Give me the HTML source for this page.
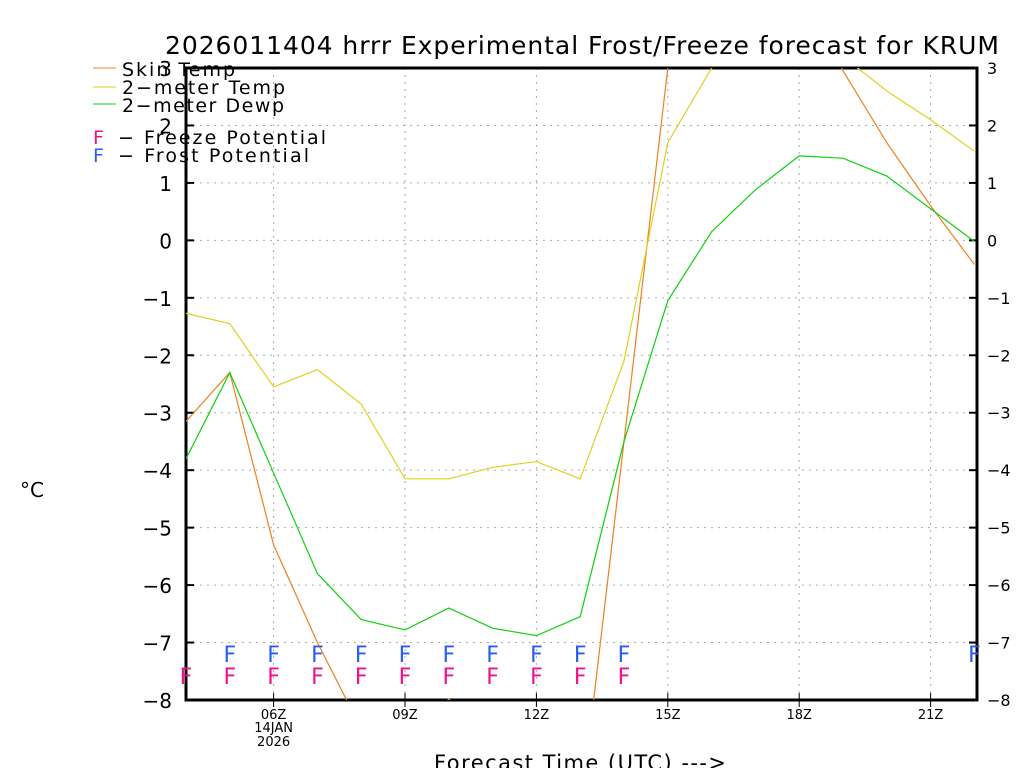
<!DOCTYPE html>
<html><head><meta charset="utf-8"><style>
html,body{margin:0;background:#fff;width:1024px;height:768px;overflow:hidden}
svg{display:block;font-family:"DejaVu Sans","Liberation Sans",sans-serif}
</style></head><body>
<svg id="c" width="1024" height="768">
<defs><clipPath id="clip"><rect x="186" y="68" width="791" height="632"/></clipPath></defs>
<text x="582" y="54" font-size="25" text-anchor="middle" textLength="834">2026011404 hrrr Experimental Frost/Freeze forecast for KRUM</text>
<g id="grid"></g><g id="axes"></g>
<g id="series" clip-path="url(#clip)"></g>
<g id="marks"></g>
<g font-size="19">
<line x1="93" y1="68" x2="116" y2="68" stroke="#f07f20"/>
<text x="122" y="76" textLength="113">Skin Temp</text>
<line x1="93" y1="87" x2="116" y2="87" stroke="#e0d020"/>
<text x="122" y="94" textLength="163">2−meter Temp</text>
<line x1="93" y1="104" x2="116" y2="104" stroke="#10d010"/>
<text x="122" y="112" textLength="162">2−meter Dewp</text>
<text x="93" y="144" fill="#f0108a">F</text>
<text x="118" y="144" textLength="208">− Freeze Potential</text>
<text x="93" y="162" fill="#2a5cf0">F</text>
<text x="118" y="162" textLength="191">− Frost Potential</text>
</g>
<text x="32" y="497" font-size="20" text-anchor="middle">°C</text>
<text x="580" y="770" font-size="21" text-anchor="middle" textLength="292">Forecast Time (UTC) ---&gt;</text>
</svg>
<script>
const hours=[4,5,6,7,8,9,10,11,12,13,14,15,16,17,18,19,20,21,22];
const skinTemp=[-3.15,-2.3,-5.3,-7.0,-8.5,-9,-7.98,-9,-9,-10,-3.5,3.0,4,4.5,4.5,2.95,1.7,0.6,-0.42];
const temp2m=[-1.27,-1.45,-2.55,-2.25,-2.85,-4.15,-4.15,-3.95,-3.85,-4.15,-2.1,1.7,3.0,3.5,3.6,3.2,2.6,2.1,1.55];
const dewp2m=[-3.8,-2.3,-4.05,-5.8,-6.6,-6.78,-6.4,-6.75,-6.88,-6.55,-3.5,-1.05,0.15,0.88,1.47,1.43,1.12,0.55,-0.02];
const frostHours=[5,6,7,8,9,10,11,12,13,14,22];
const freezeHours=[4,5,6,7,8,9,10,11,12,13,14];
const yTicks=[3,2,1,0,-1,-2,-3,-4,-5,-6,-7,-8];
const xTickHours=[6,9,12,15,18,21];
const xTickLabels=["06Z","09Z","12Z","15Z","18Z","21Z"];
const X=h=>186+(h-4)*43.8;
const Y=v=>68+(3-v)*(632/11);
const NS="http://www.w3.org/2000/svg";
function mk(tag,attrs,parent,txt){const e=document.createElementNS(NS,tag);for(const k in attrs)e.setAttribute(k,attrs[k]);if(txt!==undefined)e.textContent=txt;document.getElementById(parent).appendChild(e);return e;}
yTicks.forEach(v=>{
 const y=Y(v);
 if(v<3&&v>-8){const g=mk('line',{x1:186,x2:977,y1:y,y2:y,stroke:'#aaa','stroke-dasharray':'2,5'},'grid');
 
 }
 const t1=mk('line',{x1:186,x2:194,y1:y,y2:y,stroke:'#000','stroke-width':2},'axes');
 
 
 const t2=mk('line',{x1:969,x2:977,y1:y,y2:y,stroke:'#000','stroke-width':2},'axes');
 
 
 const l=mk('text',{x:172,y:y+8,'font-size':20,'text-anchor':'end'},'axes',String(v).replace('-','−'));
 
 
 const r=mk('text',{x:987,y:y+6,'font-size':16},'axes',String(v).replace('-','−'));
 
 
});
xTickHours.forEach((h,i)=>{
 const x=X(h);
 const g=mk('line',{x1:x,x2:x,y1:68,y2:700,stroke:'#aaa','stroke-dasharray':'2,5'},'grid');
 
 
 const t=mk('line',{x1:x,x2:x,y1:693,y2:707,stroke:'#000','stroke-width':1},'axes');
 
 
 const l=mk('text',{x:x,y:719,'font-size':13,'text-anchor':'middle'},'axes',xTickLabels[i]);
 
 
});
const d1=mk('text',{x:X(6),y:732,'font-size':13,'text-anchor':'middle'},'axes','14JAN');


const d2=mk('text',{x:X(6),y:746,'font-size':13,'text-anchor':'middle'},'axes','2026');


const fr=mk('rect',{x:186,y:68,width:791,height:632,fill:'none',stroke:'#000','stroke-width':3},'axes');


[[skinTemp,'#f07f20','skin-temp-line'],[temp2m,'#e0d020','2m-temp-line'],[dewp2m,'#10d010','2m-dewp-line']].forEach(([arr,c,n])=>{
 const p=mk('polyline',{points:arr.map((v,i)=>X(hours[i])+','+Y(v)).join(' '),fill:'none',stroke:c,'stroke-width':1.2},'series');
 
 
});
frostHours.forEach(h=>{
 const t=mk('text',{x:X(h),y:662,'font-size':22,'text-anchor':'middle',fill:'#2a5cf0'},'marks','F');
 
 
});
freezeHours.forEach(h=>{
 const t=mk('text',{x:X(h),y:684,'font-size':22,'text-anchor':'middle',fill:'#f0108a'},'marks','F');
 
 
});
</script>
</body></html>
